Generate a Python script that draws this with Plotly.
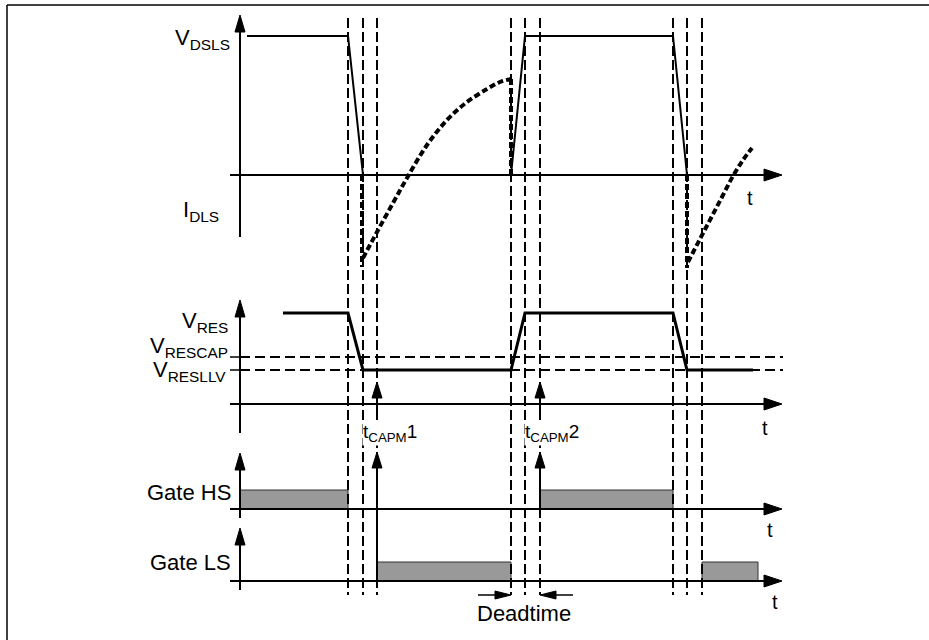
import plotly.graph_objects as go

# ---------------- data (diagram coordinates: x = time, y = drawing level) -----------
# switching instants marked by the vertical dashed guides
t_edges = [348, 363, 377, 511, 525, 540, 673, 687, 702]
guide_top, guide_bottom = 18, 595

# panels: (vertical-axis top, vertical-axis bottom, time-axis level)
panel_names = ["drain", "res", "gate_hs", "gate_ls"]
axis_v_top = [15, 300, 453, 528]
axis_v_bottom = [237, 433, 518, 590]
axis_t_level = [175, 404, 509, 581]
axis_x0, axis_t0, axis_t_end = 240, 230, 782

# V_DSLS waveform
vds_t = [247, 348, 363, 511, 525, 673, 687]
vds_v = [36, 36, 175, 175, 36, 36, 175]

# I_DLS current (dotted), two pulses
ids1_t = [363, 377, 393, 407, 427, 447, 467, 487, 500, 511]
ids1_v = [258, 232, 203, 178, 145, 120, 102, 89, 82, 79]
ids1_drop = (362, 175, 267)   # vertical part at turn-on
ids1_end = (511, 79, 175)     # vertical part at turn-off
ids2_t = [688, 700, 711, 722, 733, 743, 752]
ids2_v = [262, 239, 218, 197, 176, 160, 148]
ids2_drop = (687, 175, 268)

# V_RES waveform and thresholds
vres_t = [283, 348, 363, 511, 525, 673, 687, 753]
vres_v = [313, 313, 370, 370, 313, 313, 370, 370]
v_rescap_level = 357
v_resllv_level = 370
thr_end = 783

# t_CAPM marker arrows (time, tail, tip)
tcapm_t = [377, 540]
tcapm_tail, tcapm_tip = 418, 382
tcapm_labels = ["t<sub>CAPM</sub>1", "t<sub>CAPM</sub>2"]
tcapm_label_x = [362, 524]

# gate drive pulses
hs_on = [(240, 348), (540, 673)]
ls_on = [(377, 511), (702, 758)]
gate_high = [490, 562]
gate_arrow_t = [377, 540]
gate_arrow_tail = [581, 509]
gate_arrow_tip = 452

# deadtime indicator
dead_left = (478, 511)
dead_right = (573, 540)
dead_level = 595

BLACK = "#000000"
GREY = "#999999"

fig = go.Figure()


def line(xs, ys, width=2, dash="solid", color=BLACK, shape="linear"):
    fig.add_trace(go.Scatter(x=xs, y=ys, mode="lines",
                             line=dict(color=color, width=width, dash=dash, shape=shape),
                             hoverinfo="skip"))


def tri(pts):
    xs = [p[0] for p in pts] + [pts[0][0]]
    ys = [p[1] for p in pts] + [pts[0][1]]
    fig.add_trace(go.Scatter(x=xs, y=ys, mode="lines", fill="toself",
                             fillcolor=BLACK, line=dict(color=BLACK, width=1),
                             hoverinfo="skip"))


def arrow_up(x, tip, half=5, length=17):
    tri([(x, tip), (x - half, tip + length), (x + half, tip + length)])


def arrow_right(tip, y, half=6, length=18):
    tri([(tip, y), (tip - length, y - half), (tip - length, y + half)])


def arrow_left(tip, y, half=5, length=17):
    tri([(tip, y), (tip + length, y - half), (tip + length, y + half)])


# frame
line([7, 7], [640, 5], width=1.5)
line([7, 929], [5, 5], width=1.5)

# gate pulses (grey boxes)
for (a, b) in hs_on:
    fig.add_shape(type="rect", x0=a, x1=b, y0=gate_high[0], y1=axis_t_level[2],
                  fillcolor=GREY, line=dict(color="#333333", width=1), layer="below")
for (a, b) in ls_on:
    fig.add_shape(type="rect", x0=a, x1=b, y0=gate_high[1], y1=axis_t_level[3],
                  fillcolor=GREY, line=dict(color="#333333", width=1), layer="below")

# vertical dashed guides
gx, gy = [], []
for t in t_edges:
    gx += [t, t, None]
    gy += [guide_top, guide_bottom, None]
line(gx, gy, width=2, dash="10px,4px")

# axes
for vt, vb, tl in zip(axis_v_top, axis_v_bottom, axis_t_level):
    line([axis_x0, axis_x0], [vb, vt + 14], width=2)
    arrow_up(axis_x0, vt)
    line([axis_t0, axis_t_end - 15], [tl, tl], width=2)
    arrow_right(axis_t_end, tl)

# ticks at thresholds
for lv in (v_rescap_level, v_resllv_level):
    line([axis_t0, axis_x0], [lv, lv], width=1.5)

# threshold dashed lines
line([axis_x0, thr_end], [v_rescap_level, v_rescap_level], width=2, dash="10px,5px")
line([axis_x0, thr_end], [v_resllv_level, v_resllv_level], width=2, dash="10px,5px")

# V_DSLS
line(vds_t, vds_v, width=2)

# I_DLS dotted
dot = "6px,3px"
line([ids1_drop[0], ids1_drop[0]], [ids1_drop[1], ids1_drop[2]], width=4, dash=dot)
line(ids1_t, ids1_v, width=4, dash=dot, shape="spline")
line([ids1_end[0], ids1_end[0]], [ids1_end[1], ids1_end[2]], width=4, dash=dot)
line([ids2_drop[0], ids2_drop[0]], [ids2_drop[1], ids2_drop[2]], width=4, dash=dot)
line(ids2_t, ids2_v, width=4, dash=dot, shape="spline")

# V_RES
line(vres_t, vres_v, width=3)

# t_CAPM arrows
for t in tcapm_t:
    line([t, t], [tcapm_tail, tcapm_tip + 14], width=2)
    arrow_up(t, tcapm_tip, half=5, length=16)

# gate arrows
for t, tail in zip(gate_arrow_t, gate_arrow_tail):
    line([t, t], [tail, gate_arrow_tip + 14], width=2)
    arrow_up(t, gate_arrow_tip, half=5, length=16)

# deadtime arrows
line([dead_left[0], dead_left[1] - 12], [dead_level, dead_level], width=1.5)
arrow_right(dead_left[1], dead_level, half=4, length=16)
line([dead_right[0], dead_right[1] + 12], [dead_level, dead_level], width=1.5)
arrow_left(dead_right[1], dead_level, half=4, length=16)

FONT = "Liberation Sans, Arial, sans-serif"


def label(text, x, y, size=22, xanchor="right", yanchor="middle", bg=None):
    fig.add_annotation(x=x, y=y, text=text, showarrow=False, xanchor=xanchor,
                       yanchor=yanchor, font=dict(family=FONT, size=size, color=BLACK),
                       bgcolor=bg, borderpad=0)


label("V<sub>DSLS</sub>", 231, 39)
label("I<sub>DLS</sub>", 220, 211)
label("V<sub>RES</sub>", 229, 322)
label("V<sub>RESCAP</sub>", 229, 347)
label("V<sub>RESLLV</sub>", 227, 371)
label("Gate HS", 232, 492)
label("Gate LS", 232, 562)

for txt, lx in zip(tcapm_labels, tcapm_label_x):
    label(txt, lx, 433, size=19, xanchor="left", bg="white")

for tx, ty in zip([750, 765, 770, 775], [198, 428, 530, 602]):
    label("t", tx, ty, size=20, xanchor="center")

label("Deadtime", 524, 613, size=22, xanchor="center")

fig.update_layout(width=929, height=640, margin=dict(l=0, r=0, t=0, b=0),
                  paper_bgcolor="white", plot_bgcolor="white", showlegend=False,
                  xaxis=dict(range=[0, 929], visible=False, fixedrange=True),
                  yaxis=dict(range=[640, 0], visible=False, fixedrange=True))

fig.write_html("out.html", config={"displayModeBar": False},
               post_script="document.body.style.margin='0';"
                           "document.body.style.overflow='hidden';")
